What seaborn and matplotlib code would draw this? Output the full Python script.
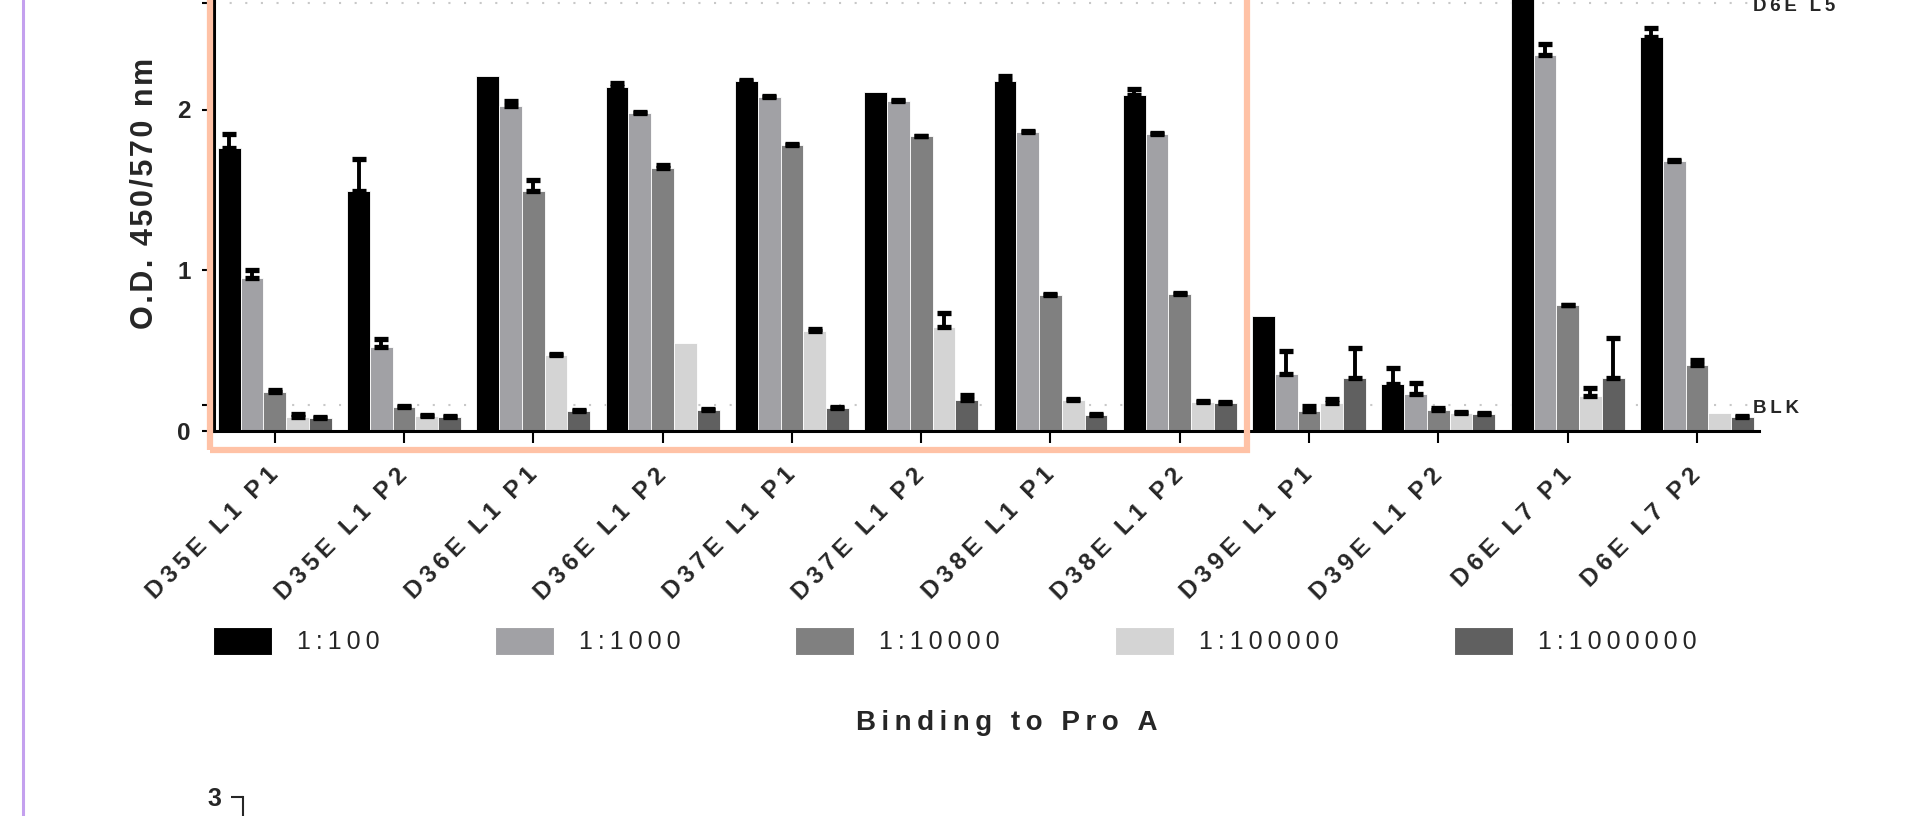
import numpy as np
import pandas as pd
import matplotlib
matplotlib.use("Agg")
import matplotlib.pyplot as plt
import matplotlib.transforms as mtransforms
from matplotlib.patches import Rectangle, Patch
from matplotlib.lines import Line2D
import seaborn as sns

nan = np.nan

# ---------------------------------------------------------------------------
# Data (O.D. 450/570 nm)
# ---------------------------------------------------------------------------
SAMPLES = ["D35E L1 P1", "D35E L1 P2", "D36E L1 P1", "D36E L1 P2",
           "D37E L1 P1", "D37E L1 P2", "D38E L1 P1", "D38E L1 P2",
           "D39E L1 P1", "D39E L1 P2", "D6E L7 P1", "D6E L7 P2"]
DILUTIONS = ["1:100", "1:1000", "1:10000", "1:100000", "1:1000000"]

OD_100     = [1.76, 1.49, 2.21, 2.14, 2.18, 2.11, 2.18, 2.09, 0.715, 0.29, 2.85, 2.45]
OD_1000    = [0.95, 0.52, 2.02, 1.98, 2.08, 2.05, 1.86, 1.85, 0.35, 0.23, 2.34, 1.68]
OD_10000   = [0.24, 0.145, 1.49, 1.635, 1.78, 1.835, 0.845, 0.85, 0.12, 0.13, 0.785, 0.41]
OD_100000  = [0.086, 0.09, 0.47, 0.547, 0.62, 0.645, 0.19, 0.18, 0.17, 0.11, 0.215, 0.107]
OD_1000000 = [0.076, 0.086, 0.123, 0.128, 0.14, 0.188, 0.097, 0.171, 0.33, 0.103, 0.325, 0.086]

# upper error only (nan = no bar drawn)
SD_100     = [0.09, 0.20, nan, 0.025, 0.005, nan, 0.03, 0.04, nan, 0.097, nan, 0.06]
SD_1000    = [0.05, 0.05, 0.03, 0.005, 0.005, 0.01, 0.005, 0.005, 0.145, 0.069, 0.07, 0.005]
SD_10000   = [0.01, 0.01, 0.07, 0.02, 0.005, 0.0, 0.005, 0.005, 0.03, 0.01, 0.0, 0.027]
SD_100000  = [0.015, 0.005, 0.005, nan, 0.01, 0.09, 0.005, 0.005, 0.027, 0.005, 0.048, nan]
SD_1000000 = [0.01, 0.005, 0.005, 0.005, 0.005, 0.035, 0.005, 0.005, 0.185, 0.005, 0.253, 0.005]

BLK = 0.16
D6E_L5 = 2.665

PALETTE = ["#000000", "#a1a1a5", "#808080", "#d4d4d4", "#606060"]
ORANGE = "#ffc2a6"
PURPLE = "#c4a0ee"

W, H = 1907, 816
THIN = "\u2009"
HAIR = "\u200a"


def spaced(s, sp=THIN):
    return sp.join(s)


df = pd.DataFrame({
    "sample": SAMPLES * len(DILUTIONS),
    "dilution": np.repeat(DILUTIONS, len(SAMPLES)),
    "od": OD_100 + OD_1000 + OD_10000 + OD_100000 + OD_1000000,
})
SDS = [SD_100, SD_1000, SD_10000, SD_100000, SD_1000000]

# ---------------------------------------------------------------------------
# Plot
# ---------------------------------------------------------------------------
sns.set_style("ticks")
plt.rcParams["font.family"] = ["Liberation Sans", "DejaVu Sans"]

fig = plt.figure(figsize=(W / 100, H / 100), dpi=100)
ax = fig.add_axes([214 / W, (H - 430.5) / H, (1759 - 214) / W, 3 * 160.5 / H])

sns.barplot(data=df, x="sample", y="od", hue="dilution",
            order=SAMPLES, hue_order=DILUTIONS, palette=PALETTE,
            width=0.88, saturation=1, errorbar=None,
            edgecolor="white", linewidth=0.6, legend=False, ax=ax, zorder=2)

for cont, sd in zip(ax.containers, SDS):
    xs = np.array([b.get_x() + b.get_width() / 2 for b in cont])
    ys = np.array([b.get_height() for b in cont])
    sd = np.array(sd, dtype=float)
    ok = ~np.isnan(sd)
    ax.errorbar(xs[ok], ys[ok], yerr=[np.zeros(ok.sum()), sd[ok]],
                fmt="none", ecolor="black", elinewidth=2.8,
                capsize=5, capthick=3.8, zorder=3)

# dotted reference levels
for lvl in (BLK, D6E_L5):
    ax.axhline(lvl, color="#c8c8c8", lw=1.5, dashes=(1, 6.5), zorder=1)
trans = mtransforms.blended_transform_factory(ax.transAxes, ax.transData)
ax.text(0.996, BLK - 0.02, spaced("BLK"), transform=trans, ha="left",
        va="center", fontsize=13.5, fontweight="bold", clip_on=False)
ax.text(0.996, D6E_L5 - 0.025, spaced("D6E L5"), transform=trans, ha="left",
        va="center", fontsize=13.5, fontweight="bold", clip_on=False)

ax.set_xlim(-0.47, 11.48)
ax.set_ylim(0, 3)
ax.set_yticks([0, BLK, 1, 2, D6E_L5])
ax.set_yticklabels(["0", "", "1", "2", ""], fontsize=17.5, fontweight="bold")
ax.set_xticks(range(len(SAMPLES)))
ax.set_xticklabels([spaced(s) for s in SAMPLES], rotation=45, ha="right",
                   va="center", rotation_mode="anchor",
                   fontsize=17.5, fontweight="bold")
ax.tick_params(axis="both", length=8.6, width=1.5, color="black")
ax.tick_params(axis="y", pad=8)
ax.tick_params(axis="x", pad=21)
sns.despine(ax=ax)
for sp in ("left", "bottom"):
    ax.spines[sp].set_linewidth(2.2)
    ax.spines[sp].set_color("black")

ax.set_ylabel(spaced("O.D. 450/570 nm", HAIR), fontsize=22, fontweight="bold")
ax.yaxis.set_label_coords(-0.0453, 0.492)
ax.yaxis.label.set_va("center")
ax.yaxis.label.set_ha("center")

ax.set_xlabel(spaced("Binding to Pro A"), fontsize=20, fontweight="bold")
ax.xaxis.set_label_coords(0.513, -0.6075)
ax.xaxis.label.set_va("center")

handles = [Patch(facecolor=c, edgecolor="white", lw=0.8) for c in PALETTE]
ax.legend(handles, [spaced(d) for d in DILUTIONS], loc="center left",
          bbox_to_anchor=(213 / W, (H - 641) / H), bbox_transform=fig.transFigure,
          ncol=5, frameon=False, fontsize=18, handlelength=2.36,
          handleheight=1.35, handletextpad=1.0, columnspacing=4.6,
          borderpad=0, borderaxespad=0)

# top of the next panel peeking in at the bottom
ax2 = fig.add_axes([243 / W, -0.3, 0.05, 0.3 + (H - 797) / H])
ax2.patch.set_visible(False)
ax2.set_ylim(0, 3)
ax2.set_yticks([3])
ax2.set_yticklabels(["3"], fontsize=18, fontweight="bold")
ax2.set_xticks([])
for sp in ("top", "right", "bottom"):
    ax2.spines[sp].set_visible(False)
ax2.spines["left"].set_linewidth(1.5)
ax2.tick_params(axis="y", length=8.6, width=1.5, pad=7)

# highlight box and panel divider
fig.add_artist(Rectangle((210 / W, (H - 450) / H), (1247 - 210) / W, 0.7,
                         transform=fig.transFigure, fill=False,
                         edgecolor=ORANGE, lw=4.5))
fig.add_artist(Line2D([23 / W, 23 / W], [0, 1], transform=fig.transFigure,
                      color=PURPLE, lw=2.2))

fig.savefig("out.png", dpi=100)
